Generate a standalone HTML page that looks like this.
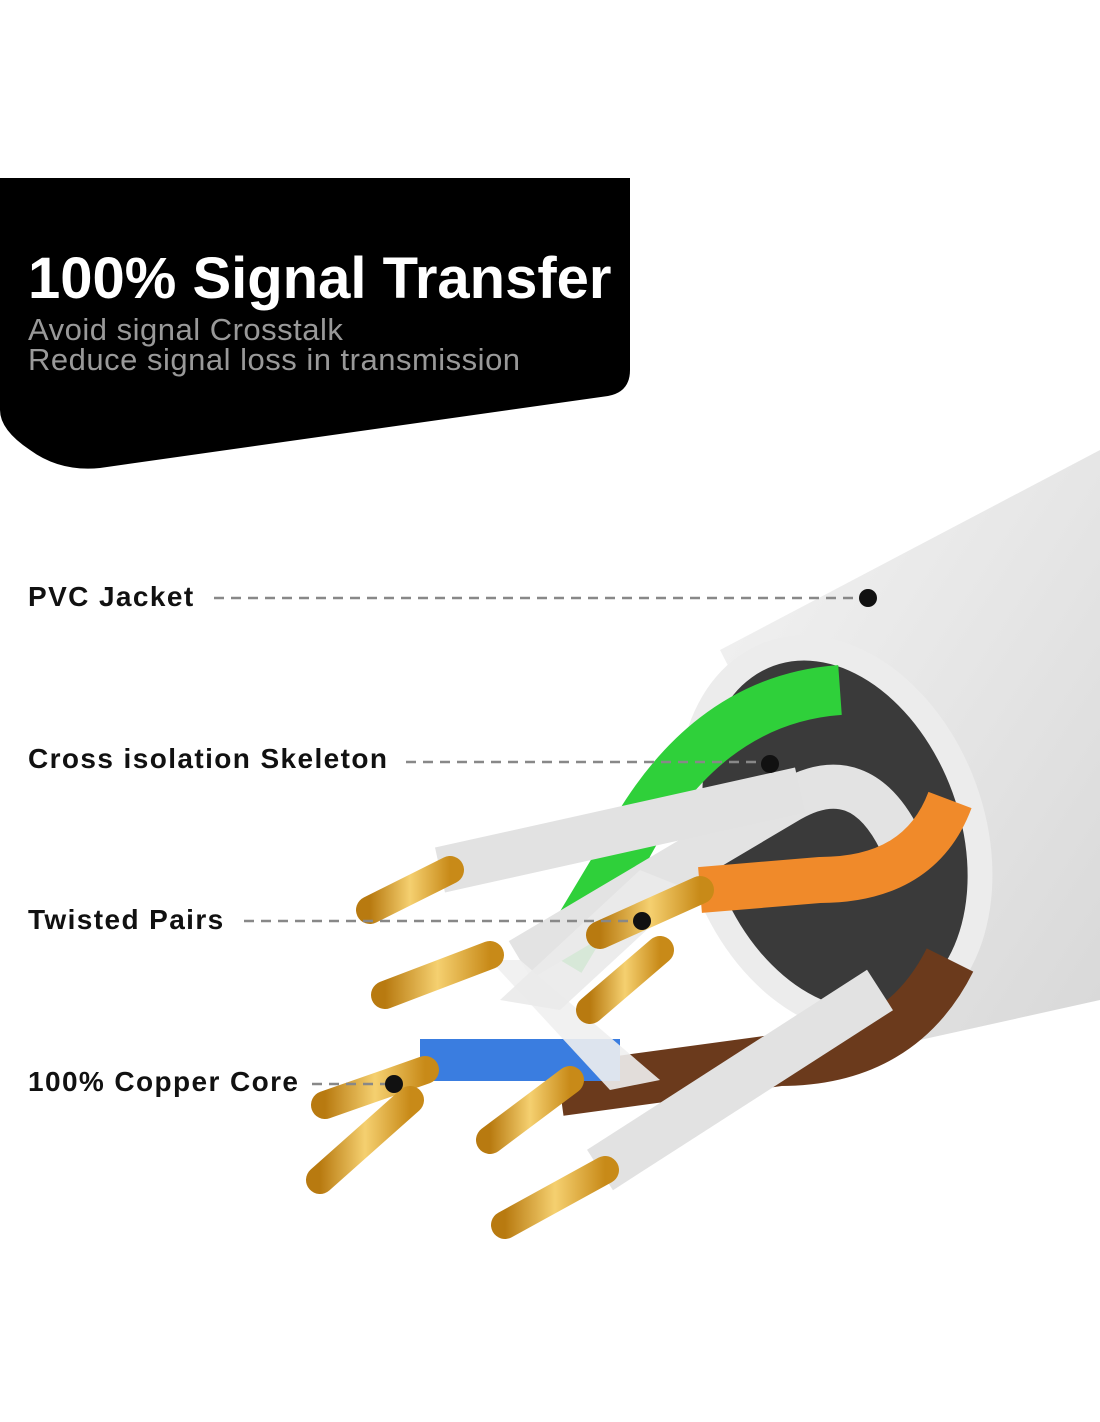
<!DOCTYPE html>
<html><head><meta charset="utf-8"><style>
html,body{margin:0;padding:0;background:#fff;}
body{width:1100px;height:1422px;overflow:hidden;position:relative;font-family:"Liberation Sans",sans-serif;}
.lbl{position:absolute;left:28px;font-weight:bold;font-size:28px;letter-spacing:1.4px;color:#111;}
</style></head><body>
<svg width="1100" height="1422" style="position:absolute;left:0;top:0">
<defs>
<linearGradient id="jk" x1="0" y1="0" x2="1" y2="1"><stop offset="0" stop-color="#f4f4f4"/><stop offset="1" stop-color="#d8d8d8"/></linearGradient>
<linearGradient id="cu" x1="0" y1="0" x2="1" y2="0"><stop offset="0" stop-color="#b87a10"/><stop offset=".5" stop-color="#f5d070"/><stop offset="1" stop-color="#c88a18"/></linearGradient>
</defs>
<path d="M0 178 H630 V370 Q630 392 608 396 L100 468 Q60 472 30 450 Q0 430 0 410 Z" fill="#000"/>
<path d="M720 650 L1100 450 L1100 1000 L920 1040 Z" fill="url(#jk)"/>
<ellipse cx="835" cy="835" rx="150" ry="205" transform="rotate(-20 835 835)" fill="#ececec"/>
<ellipse cx="835" cy="835" rx="125" ry="180" transform="rotate(-20 835 835)" fill="#3a3a3a"/>
<path d="M840 690 Q700 700 620 860 L560 960" stroke="#2fd03a" stroke-width="50" fill="none"/>
<path d="M900 840 Q860 760 790 800 L520 960" stroke="#e3e3e3" stroke-width="44" fill="none"/>
<path d="M950 800 Q920 880 820 880 L700 890" stroke="#f08a2a" stroke-width="46" fill="none"/>
<path d="M950 960 Q900 1060 780 1060 L560 1090" stroke="#6b3a1c" stroke-width="52" fill="none"/>
<path d="M800 790 L440 870" stroke="#e2e2e2" stroke-width="46" fill="none"/>
<path d="M880 990 L600 1170" stroke="#e2e2e2" stroke-width="48" fill="none"/>
<path d="M620 1060 L420 1060" stroke="#3a7de0" stroke-width="42" fill="none"/>
<path d="M520 960 L660 1080 L610 1090 L490 960 Z" fill="#f0f0f0" opacity=".9"/>
<path d="M500 1000 L640 870 L690 890 L560 1010 Z" fill="#eaeaea" opacity=".9"/>
<g stroke="url(#cu)" stroke-width="28" stroke-linecap="round">
<line x1="450" y1="870" x2="370" y2="910"/>
<line x1="490" y1="955" x2="385" y2="995"/>
<line x1="700" y1="890" x2="600" y2="935"/>
<line x1="660" y1="950" x2="590" y2="1010"/>
<line x1="425" y1="1070" x2="325" y2="1105"/>
<line x1="410" y1="1100" x2="320" y2="1180"/>
<line x1="570" y1="1080" x2="490" y2="1140"/>
<line x1="605" y1="1170" x2="505" y2="1225"/>
</g>
<g stroke="#888" stroke-width="2.5" stroke-dasharray="10 7">
<line x1="214" y1="598" x2="865" y2="598"/>
<line x1="406" y1="762" x2="768" y2="762"/>
<line x1="244" y1="921" x2="640" y2="921"/>
<line x1="312" y1="1084" x2="392" y2="1084"/>
</g>
<g fill="#111"><circle cx="868" cy="598" r="9"/><circle cx="770" cy="764" r="9"/><circle cx="642" cy="921" r="9"/><circle cx="394" cy="1084" r="9"/></g>
<text x="28" y="298" font-family="Liberation Sans" font-weight="bold" font-size="58" fill="#fff" letter-spacing="0">100% Signal Transfer</text>
<text x="28" y="340" font-family="Liberation Sans" font-size="31" fill="#999" letter-spacing="0.5">Avoid signal Crosstalk</text>
<text x="28" y="370" font-family="Liberation Sans" font-size="31" fill="#999" letter-spacing="0.5">Reduce signal loss in transmission</text>
</svg>
<div class="lbl" style="top:581px">PVC Jacket</div>
<div class="lbl" style="top:743px">Cross isolation Skeleton</div>
<div class="lbl" style="top:904px">Twisted Pairs</div>
<div class="lbl" style="top:1066px">100% Copper Core</div>
</body></html>
